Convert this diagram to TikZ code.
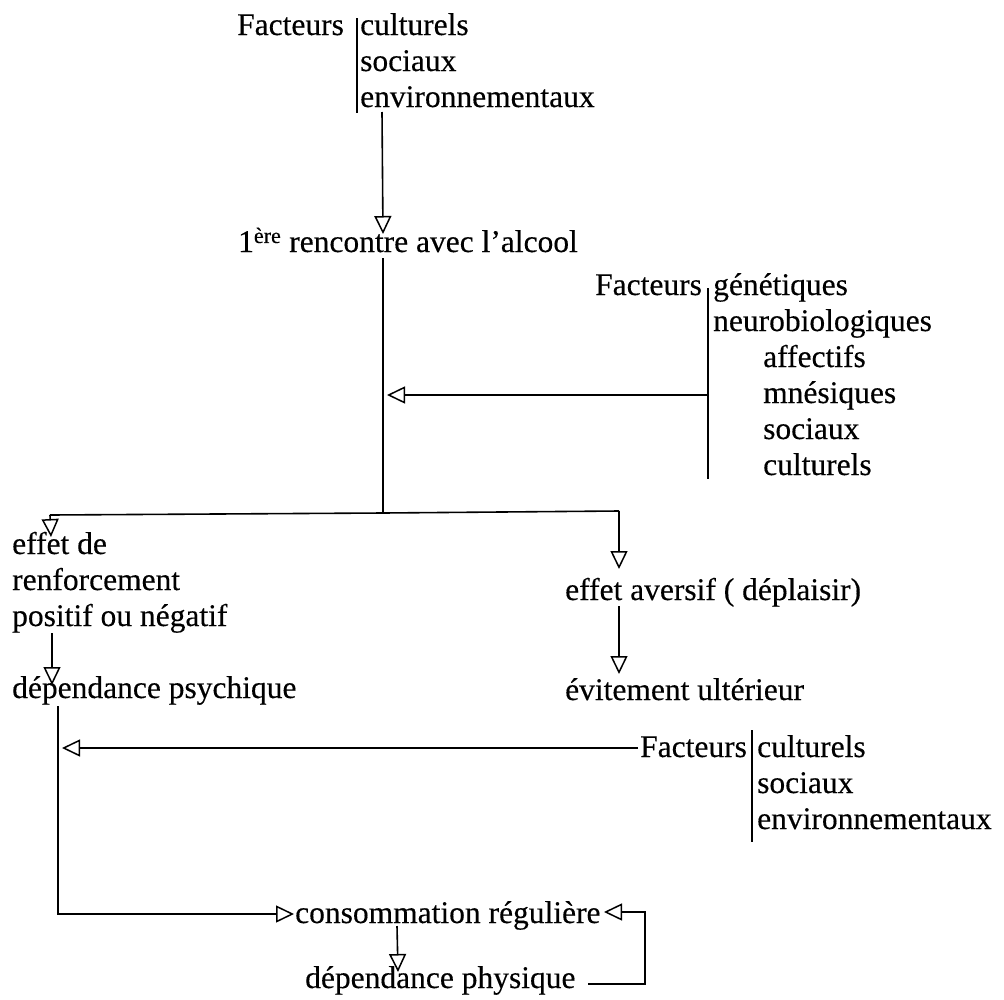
\documentclass[tikz,border=0pt]{standalone}
\usepackage{fontspec}
\setmainfont{Liberation Serif}
\newfontfamily\reffont{Liberation Serif}[FakeBold=0.3]
\usetikzlibrary{arrows.meta}
\begin{document}
\begin{tikzpicture}[x=1pt,y=-1pt,
  txt/.style={anchor=base west,inner sep=0pt,font=\reffont\fontsize{31.5}{36}\selectfont},
  ln/.style={line width=1.6pt},
  arr/.style={ln,-{Triangle[open,length=18pt,width=17pt,line width=1.5pt]}}]
\useasboundingbox (0,0) rectangle (1004,999);

% top factors
\node[txt] (f1) at (237,35) {Facteurs};
\node[txt] (f1a) at (360,35) {culturels};
\node[txt] (f1b) at (360,71) {sociaux};
\node[txt] (f1c) at (360,107) {environnementaux};
\coordinate (b1t) at (357,18);
\coordinate (b1b) at (357,113);
\draw[ln] (b1t) -- (b1b);

\node[txt] (ren) at (238,252) {1\textsuperscript{ère} rencontre avec l’alcool};
\coordinate (a1s) at (382,112);
\coordinate (a1t) at (383,234);
\draw[arr] (a1s) -- (a1t);

\coordinate (v1) at (383,258);
\coordinate (j) at (383,513);
\draw[ln] (v1) -- (j);

% genetic factors
\node[txt] (f2) at (595,295) {Facteurs};
\node[txt] (g1) at (713,295) {génétiques};
\node[txt] (g2) at (713,331) {neurobiologiques};
\node[txt] (g3) at (763,367) {affectifs};
\node[txt] (g4) at (763,403) {mnésiques};
\node[txt] (g5) at (763,439) {sociaux};
\node[txt] (g6) at (763,475) {culturels};
\coordinate (b2t) at (708,288);
\coordinate (b2b) at (708,479);
\draw[ln] (b2t) -- (b2b);
\coordinate (b2m) at (708,395);
\coordinate (g2tip) at (387,395);
\draw[arr] (b2m) -- (g2tip);

% branches
\coordinate (bl) at (50,515);
\coordinate (br) at (619,511);
\draw[ln] (bl) -- (j) -- (br);
\coordinate (bltip) at (51,537);
\coordinate (brtip) at (619,569);
\draw[arr] (bl) -- (bltip);
\draw[arr] (br) -- (brtip);

\node[txt] (e1) at (12,554) {effet de};
\node[txt] (e2) at (12,590) {renforcement};
\node[txt] (e3) at (12,626) {positif ou négatif};
\node[txt] (av) at (565,600) {effet aversif ( déplaisir)};

\coordinate (l2s) at (52,633);
\coordinate (l2t) at (52,685);
\draw[arr] (l2s) -- (l2t);
\coordinate (r2s) at (619,606);
\coordinate (r2t) at (619,674);
\draw[arr] (r2s) -- (r2t);

\node[txt] (dpsy) at (12,698) {dépendance psychique};
\node[txt] (evit) at (565,700) {évitement ultérieur};

% loop to consommation
\coordinate (l3s) at (58,706);
\coordinate (l3c) at (58,914);
\coordinate (l3t) at (294,914);
\draw[arr] (l3s) -- (l3c) -- (l3t);

% bottom factors
\node[txt] (f3) at (640,757) {Facteurs};
\node[txt] (h1) at (757,757) {culturels};
\node[txt] (h2) at (757,793) {sociaux};
\node[txt] (h3) at (757,829) {environnementaux};
\coordinate (b3t) at (752,730);
\coordinate (b3b) at (752,842);
\draw[ln] (b3t) -- (b3b);
\coordinate (f3w) at (638,748);
\coordinate (f3tip) at (62,748);
\draw[arr] (f3w) -- (f3tip);

\node[txt] (cons) at (295,923) {consommation régulière};
\node[txt] (dphy) at (305,988) {dépendance physique};

\coordinate (c1) at (397,926);
\coordinate (c1t) at (398,972);
\draw[arr] (c1) -- (c1t);

\coordinate (p1) at (588,984);
\coordinate (q1) at (645,984);
\coordinate (q2) at (645,912);
\coordinate (q3) at (604,912);
\draw[arr] (p1) -- (q1) -- (q2) -- (q3);
\end{tikzpicture}
\end{document}
